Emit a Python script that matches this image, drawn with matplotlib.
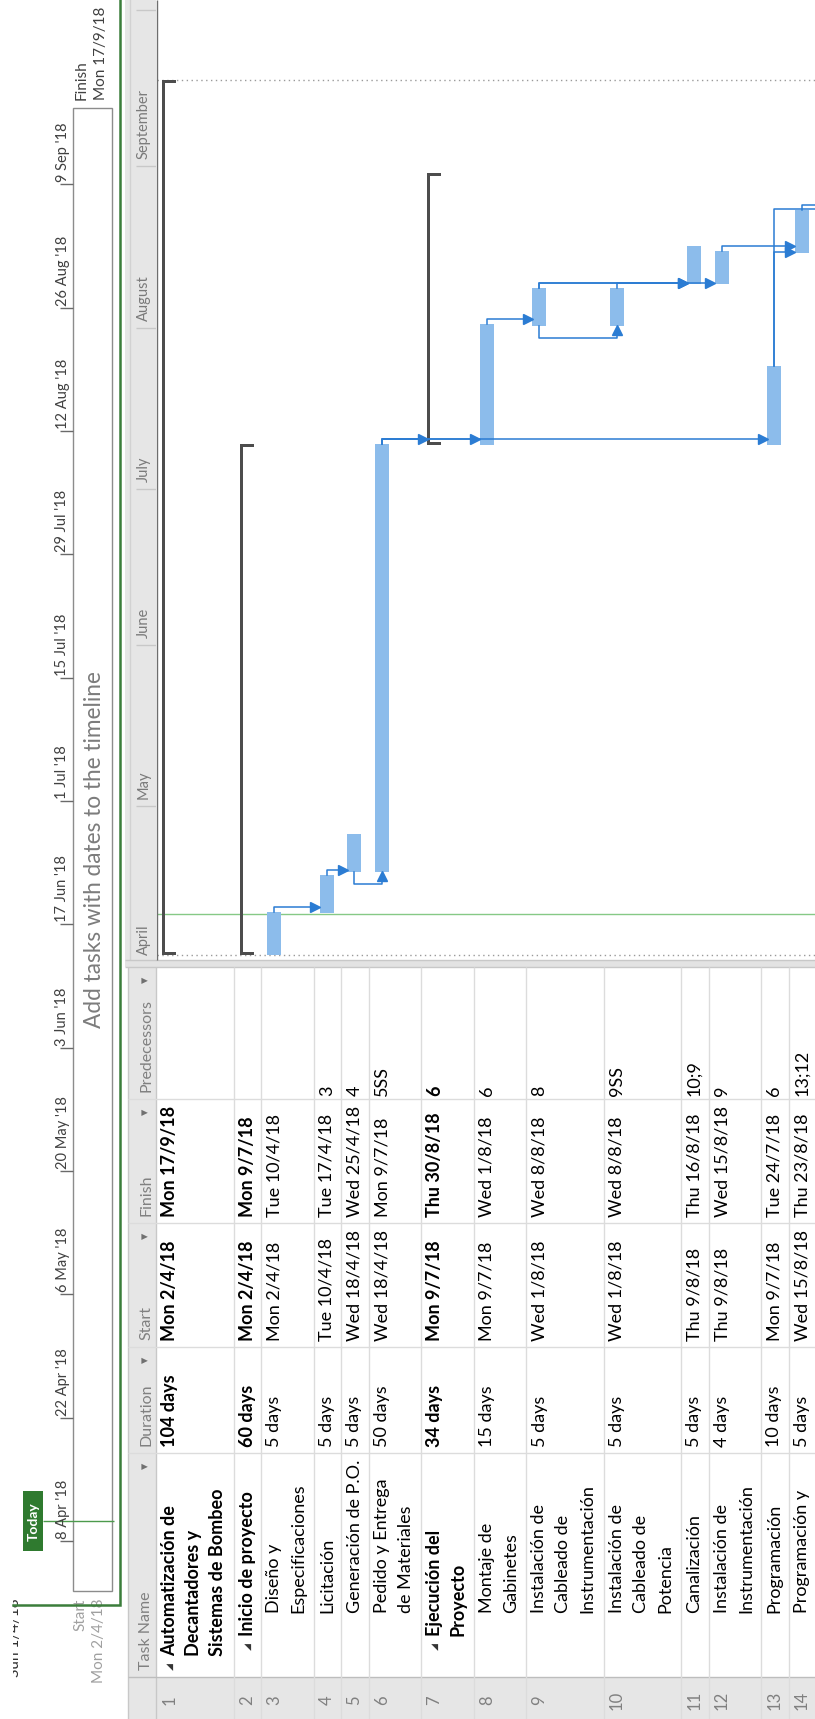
"""MS Project Gantt view (rotated screenshot): Automatización de Decantadores."""

import datetime as dt

import matplotlib

matplotlib.use("Agg")
import matplotlib.dates as mdates
import matplotlib.pyplot as plt
from matplotlib.patches import Rectangle

# ---- data -------------------------------------------------------------------
TASK_IDS = list(range(1, 15))
TASK_NAMES = [
    "Automatización de\nDecantadores y\nSistemas de Bombeo",
    "Inicio de proyecto",
    "Diseño y\nEspecificaciones",
    "Licitación",
    "Generación de P.O.",
    "Pedido y Entrega\nde Materiales",
    "Ejecución del\nProyecto",
    "Montaje de\nGabinetes",
    "Instalación de\nCableado de\nInstrumentación",
    "Instalación de\nCableado de\nPotencia",
    "Canalización",
    "Instalación de\nInstrumentación",
    "Programación",
    "Programación y",
]
OUTLINE_LEVEL = [0, 1, 2, 2, 2, 2, 1, 2, 2, 2, 2, 2, 2, 2]
DURATIONS = ["104 days", "60 days", "5 days", "5 days", "5 days", "50 days", "34 days",
             "15 days", "5 days", "5 days", "5 days", "4 days", "10 days", "5 days"]
STARTS = ["Mon 2/4/18", "Mon 2/4/18", "Mon 2/4/18", "Tue 10/4/18", "Wed 18/4/18",
          "Wed 18/4/18", "Mon 9/7/18", "Mon 9/7/18", "Wed 1/8/18", "Wed 1/8/18",
          "Thu 9/8/18", "Thu 9/8/18", "Mon 9/7/18", "Wed 15/8/18"]
FINISHES = ["Mon 17/9/18", "Mon 9/7/18", "Tue 10/4/18", "Tue 17/4/18", "Wed 25/4/18",
            "Mon 9/7/18", "Thu 30/8/18", "Wed 1/8/18", "Wed 8/8/18", "Wed 8/8/18",
            "Thu 16/8/18", "Wed 15/8/18", "Tue 24/7/18", "Thu 23/8/18"]
PREDECESSORS = ["", "", "", "3", "4", "5SS", "6", "6", "8", "9SS", "10;9", "9", "6", "13;12"]
# task 15 sits below the cropped area; only its incoming links show
NEXT_TASK_PREDECESSORS = "14;13"

MONTHS = ["April", "May", "June", "July", "August", "September"]
TIMELINE_TICKS = ["8 Apr '18", "22 Apr '18", "6 May '18", "20 May '18", "3 Jun '18",
                  "17 Jun '18", "1 Jul '18", "15 Jul '18", "29 Jul '18", "12 Aug '18",
                  "26 Aug '18", "9 Sep '18"]
TODAY = dt.datetime(2018, 4, 10, 6)

# ---- styling / layout (output pixels; time runs upward, rows left to right) --
W, H, DPI = 815, 1719, 100
FONT = ["Lato", "DejaVu Sans"]
BAR_BLUE = "#8cbceb"
LINK_BLUE = "#2b7cd3"
SUMMARY_GREY = "#4d4d4d"
BORDER_GREEN = "#3b7d3b"
TODAY_GREEN = "#86c986"
GRID = "#dcdcdc"
BAND = "#e6e6e6"
HEADER_TEXT = "#808080"

ROW0_X = 156
CHART_BOTTOM = 960
GANTT_PX_DAY = 5.2
GANTT_Y_APR1 = 962
TL_PX_DAY = 8.81
TL_Y_APR8 = 1541
COL_EDGES = [1719, 1677, 1453, 1347, 1223, 1099, 967]
HEADERS = ["Task Name", "Duration", "Start", "Finish", "Predecessors"]


def parse_day(text):
    day, month, year = (int(v) for v in text.split()[1].split("/"))
    return dt.datetime(2000 + year, month, day)


start_t = [mdates.date2num(parse_day(s) + dt.timedelta(hours=8)) for s in STARTS]
end_t = [mdates.date2num(parse_day(s) + dt.timedelta(hours=17)) for s in FINISHES]
is_summary = [lvl < 2 for lvl in OUTLINE_LEVEL]
n_lines = [name.count("\n") + 1 for name in TASK_NAMES]

row_left = []
x = ROW0_X
for n in n_lines:
    row_left.append(x)
    x += 25 * n + 2.5
bar_x = [r + 13 for r in row_left]

fig = plt.figure(figsize=(W / DPI, H / DPI), dpi=DPI)


def px_axes(x0, y0, x1, y1, z):
    ax = fig.add_axes([x0 / W, 1 - y1 / H, (x1 - x0) / W, (y1 - y0) / H], zorder=z)
    ax.set_axis_off()
    return ax


apr1 = mdates.date2num(dt.datetime(2018, 4, 1))
apr8 = mdates.date2num(dt.datetime(2018, 4, 8))
gantt_ylim = (apr1 + (GANTT_Y_APR1 - CHART_BOTTOM) / GANTT_PX_DAY, apr1 + GANTT_Y_APR1 / GANTT_PX_DAY)

# ---- timescale band -----------------------------------------------------------
scale = px_axes(125, 0, 156, CHART_BOTTOM, 1)
scale.set_axis_on()
for sp in scale.spines.values():
    sp.set_visible(False)
scale.set_xticks([])
scale.set_yticks([])
scale.set_facecolor(BAND)
scale.set_xlim(125, 156)
scale.set_ylim(*gantt_ylim)
for i, name in enumerate(MONTHS + ["October"]):
    m0 = mdates.date2num(dt.datetime(2018, 4 + i, 1))
    scale.hlines(m0, 136, 156, color="#c8c8c8", lw=1)
    if name in MONTHS:
        scale.text(148, m0 + 7 / GANTT_PX_DAY, name, rotation=90, rotation_mode="anchor",
                   ha="left", va="baseline", fontsize=10.5, color="#7a7a7a", family=FONT)
scale.axvline(129.5, color="#d2d2d2", lw=1)

# ---- gantt chart ---------------------------------------------------------------
gantt = px_axes(157, 0, W, CHART_BOTTOM, 1)
gantt.patch.set_alpha(0)
gantt.set_xlim(157, W)
gantt.set_ylim(*gantt_ylim)

gantt.axhline(mdates.date2num(TODAY), color=TODAY_GREEN, lw=1, zorder=1)
for t in (min(start_t), max(end_t)):
    gantt.axhline(t, color="#9a9a9a", lw=1, ls=(0, (1, 2.5)), zorder=1)

cap = 3 / GANTT_PX_DAY
for i in range(len(TASK_IDS)):
    dur = end_t[i] - start_t[i]
    if is_summary[i]:
        gantt.bar(row_left[i] + 7.5, dur, bottom=start_t[i], width=3, color=SUMMARY_GREY, zorder=3)
        for b in (start_t[i], end_t[i] - cap):
            gantt.bar(row_left[i] + 13, cap, bottom=b, width=14, color=SUMMARY_GREY, zorder=3)
    else:
        gantt.bar(bar_x[i], dur, bottom=start_t[i], width=14, color=BAR_BLUE, zorder=3)

stub = 5 / GANTT_PX_DAY
line_kw = dict(color=LINK_BLUE, lw=1.1, zorder=4, solid_joinstyle="round")


def fs_link(p, tgt_x, tgt_t, arrow=True):
    level = max(end_t[p] + stub, tgt_t + 0.15)
    gantt.plot([bar_x[p], bar_x[p], tgt_x - 3], [end_t[p], level, level], **line_kw)
    if arrow:
        gantt.plot(tgt_x - 4.5, level, marker=">", ms=6.5, color=LINK_BLUE, zorder=5, lw=0)


def ss_link(p, s):
    low = start_t[p] - 12 / GANTT_PX_DAY
    gantt.plot([bar_x[p], bar_x[p], bar_x[s], bar_x[s]],
               [start_t[p], low, low, start_t[s] - 2 / GANTT_PX_DAY], **line_kw)
    gantt.plot(bar_x[s], start_t[s] - 4.5 / GANTT_PX_DAY, marker="^", ms=6.5,
               color=LINK_BLUE, zorder=5, lw=0)


for s, preds in enumerate(PREDECESSORS):
    for tok in filter(None, preds.split(";")):
        if tok.endswith("SS"):
            ss_link(int(tok[:-2]) - 1, s)
        else:
            tgt = row_left[s] + 6 if is_summary[s] else bar_x[s] - 7
            fs_link(int(tok) - 1, tgt, start_t[s])
next_start = end_t[13]
for tok in NEXT_TASK_PREDECESSORS.split(";"):
    fs_link(int(tok) - 1, W + 20, next_start, arrow=False)

# ---- timeline panel ----------------------------------------------------------
tl = px_axes(13, 0, 121, H, 1)
tl.patch.set_alpha(0)
tl.set_xlim(13, 121)
tl.set_ylim(apr8 - (H - TL_Y_APR8) / TL_PX_DAY, apr8 + TL_Y_APR8 / TL_PX_DAY)
p_start, p_end = min(start_t), max(end_t)
tl.add_patch(Rectangle((73, p_start), 39, p_end - p_start, fc="white", ec="#8c8c8c", lw=1))
for lab in TIMELINE_TICKS:
    d = dt.datetime.strptime(lab.replace("'", "20"), "%d %b %Y")
    t = mdates.date2num(d)
    tl.hlines(t, 60, 73, color="#6a6a6a", lw=1)
    tl.text(66.5, t + 2 / TL_PX_DAY, lab, rotation=90, rotation_mode="anchor", ha="left",
            va="baseline", fontsize=10.5, color="#404040", family=FONT)
tl.text(95, (p_start + p_end) / 2, "Add tasks with dates to the timeline", rotation=90,
        rotation_mode="anchor", ha="center", va="center", fontsize=16.3, color="#7c7c7c",
        family=FONT)
tv = mdates.date2num(TODAY)
tl.hlines(tv, 43, 114, color="#4c9a4c", lw=1)
tl.add_patch(Rectangle((23, tv - 30 / TL_PX_DAY), 20, 60 / TL_PX_DAY, fc="#2f7a2f", ec="none"))
tl.text(33.5, tv, "Today", rotation=90, rotation_mode="anchor", ha="center", va="center",
        fontsize=10, color="white", fontweight="bold", family=FONT)
fin = p_end + 8 / TL_PX_DAY
tl.text(86, fin, "Finish", rotation=90, rotation_mode="anchor", ha="left", va="baseline",
        fontsize=11, color="#404040", family=FONT)
tl.text(105, fin, "Mon 17/9/18", rotation=90, rotation_mode="anchor", ha="left",
        va="baseline", fontsize=11, color="#404040", family=FONT)
sta = p_start - 8 / TL_PX_DAY
tl.text(84, sta, "Start", rotation=90, rotation_mode="anchor", ha="right", va="baseline",
        fontsize=11, color="#a0a0a0", family=FONT)
tl.text(103, sta, "Mon 2/4/18", rotation=90, rotation_mode="anchor", ha="right",
        va="baseline", fontsize=11, color="#a0a0a0", family=FONT)
tl.text(19, apr8 - 136 / TL_PX_DAY, "Sun 1/4/18", rotation=90, rotation_mode="anchor",
        ha="left", va="baseline", fontsize=11, color="#303030", family=FONT, clip_on=True)

# ---- table + chrome (pixel canvas on top) ------------------------------------
cv = px_axes(0, 0, W, H, 2)
cv.patch.set_alpha(0)
cv.set_xlim(0, W)
cv.set_ylim(H, 0)

cv.add_patch(Rectangle((128, 967), 28, H - 967, fc=BAND, ec="none", zorder=0))
cv.add_patch(Rectangle((128, COL_EDGES[1]), W, H - COL_EDGES[1], fc=BAND, ec="none", zorder=0))
cv.add_patch(Rectangle((125, CHART_BOTTOM), W, 7, fc="#e3e3e3", ec="none", zorder=0))
cv.hlines([CHART_BOTTOM, 967], 125, W, color="#c8c8c8", lw=1, zorder=1)
cv.vlines(128, 967, H, color="#c8c8c8", lw=1, zorder=1)
cv.vlines(156.5, 0, CHART_BOTTOM, color="#6e6e6e", lw=1, zorder=1)
cv.vlines(156, 967, H, color="#c8c8c8", lw=1, zorder=1)
cv.hlines(COL_EDGES[1], 128, W, color="#bdbdbd", lw=1, zorder=1)
cv.hlines(COL_EDGES[2:-1], 128, W, color=GRID, lw=1, zorder=1)
cv.vlines(row_left[1:] + [x], 967, H, color=GRID, lw=1, zorder=1)

for k, head in enumerate(HEADERS):
    lo, hi = COL_EDGES[k + 1], COL_EDGES[k + 2]
    cv.text(146, lo - 7, head, rotation=90, rotation_mode="anchor", ha="left", va="center",
            fontsize=11.5, color=HEADER_TEXT, family=FONT)
    cv.text(146, hi + 13, "▾", rotation=90, rotation_mode="anchor", ha="center", va="center",
            fontsize=9, color="#707070", family=["DejaVu Sans"])

name_start = [1656, 1636, 1613]
for i in range(len(TASK_IDS)):
    xs = [row_left[i] + 13.5 + 24 * k for k in range(n_lines[i])]
    kw = dict(rotation=90, rotation_mode="anchor", va="center", fontsize=13, family=FONT,
              color="black", fontweight="bold" if is_summary[i] else "normal", ha="left")
    y0 = name_start[OUTLINE_LEVEL[i]]
    if is_summary[i]:
        cv.text(xs[0] + 1, y0 + 11, "◢", rotation=90, rotation_mode="anchor", ha="center",
                va="center", fontsize=6.5, color="#333333", family=["DejaVu Sans"])
    for k, line in enumerate(TASK_NAMES[i].split("\n")):
        cv.text(xs[k], y0, line, **kw)
    cv.text(xs[0], COL_EDGES[2] - 6, DURATIONS[i], **kw)
    cv.text(xs[0], COL_EDGES[3] - 6, STARTS[i], **kw)
    cv.text(xs[0], COL_EDGES[4] - 6, FINISHES[i], **kw)
    cv.text(xs[0], COL_EDGES[5] - 3, PREDECESSORS[i], **kw)
    cv.text(xs[0], 1700, str(TASK_IDS[i]), rotation=90, rotation_mode="anchor", ha="center",
            va="center", fontsize=12, color="#808080", family=FONT)

# green frame of the timeline pane
cv.plot([13, 120, 120], [1605, 1605, 0], color=BORDER_GREEN, lw=1.8, zorder=6,
        solid_joinstyle="miter")

fig.savefig("out.png", dpi=DPI)
